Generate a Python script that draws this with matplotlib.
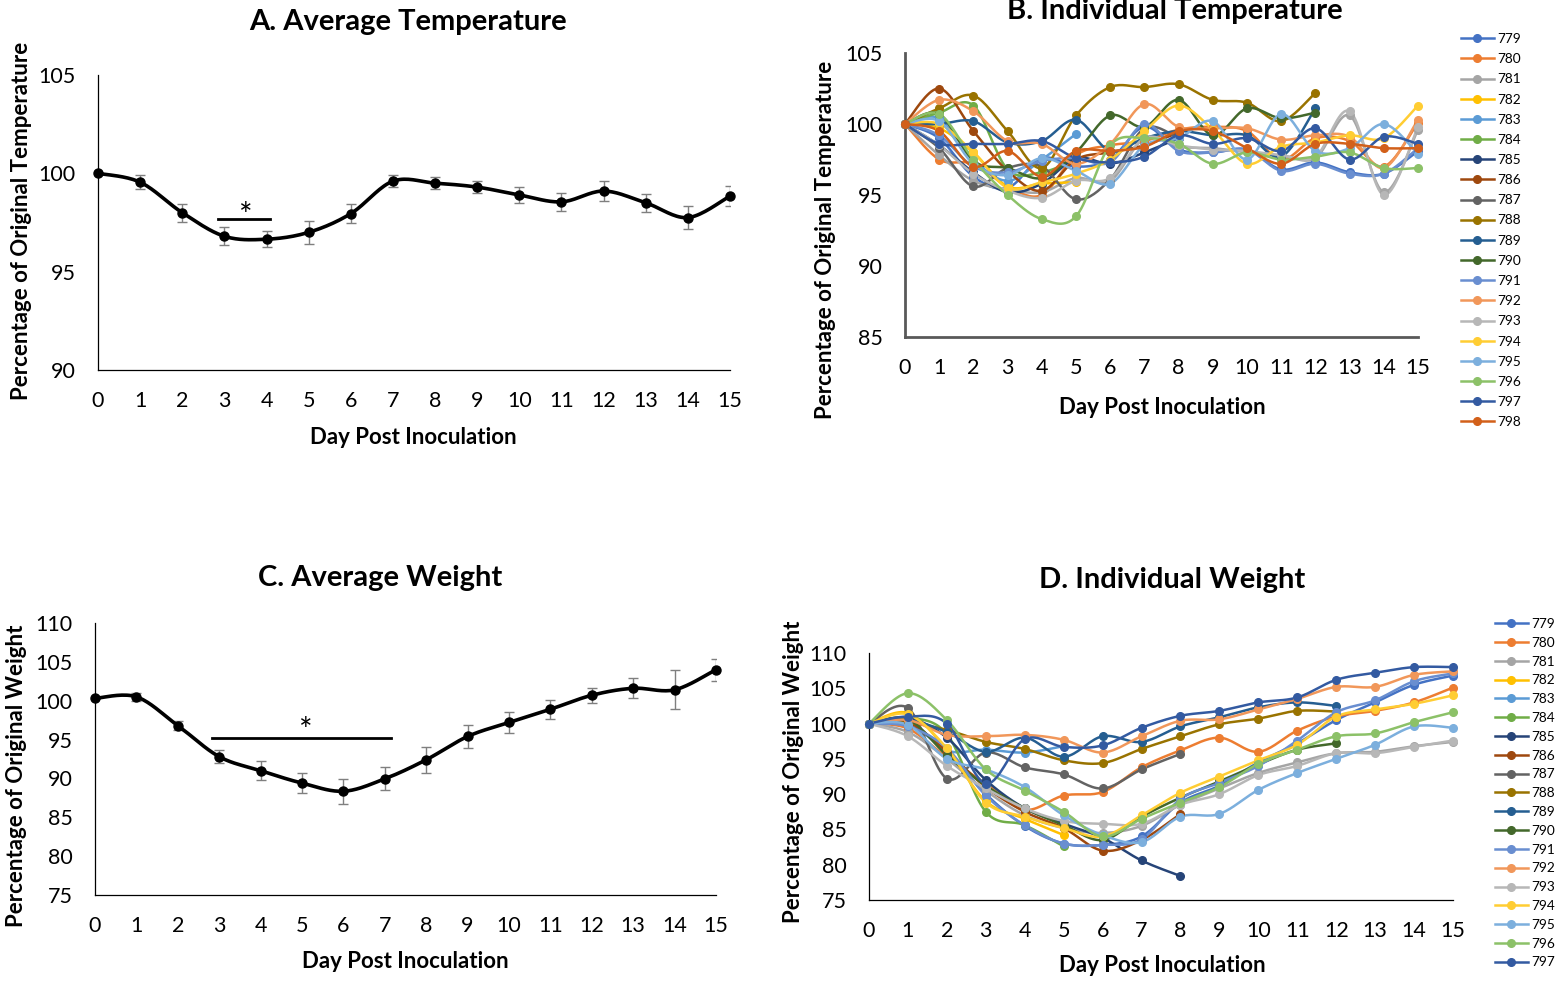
import numpy as np
import matplotlib.pyplot as plt
from matplotlib.lines import Line2D

plt.rcParams['font.family'] = ['Lato', 'DejaVu Sans']

# ---- data ----
days = list(range(16))

avg_temp = [100.0, 99.55, 98.0, 96.8, 96.65, 97.0, 97.95, 99.6, 99.5, 99.3,
            98.9, 98.55, 99.1, 98.5, 97.75, 98.85]
avg_temp_err = [0.0, 0.35, 0.45, 0.45, 0.4, 0.6, 0.5, 0.3, 0.3, 0.3,
                0.4, 0.45, 0.5, 0.45, 0.6, 0.5]
temp_sig_days = (2.85, 4.08)
temp_sig_level = 97.7

avg_weight = [100.3, 100.5, 96.8, 92.8, 91.0, 89.4, 88.35, 89.95, 92.4, 95.4,
              97.2, 98.9, 100.7, 101.6, 101.4, 104.0]
avg_weight_err = [0.0, 0.5, 0.6, 0.85, 1.2, 1.3, 1.6, 1.5, 1.7, 1.5,
                  1.3, 1.2, 0.95, 1.3, 2.5, 1.4]
weight_sig_days = (2.83, 7.15)
weight_sig_level = 95.2

mouse_ids = ['779', '780', '781', '782', '783', '784', '785', '786', '787', '788',
             '789', '790', '791', '792', '793', '794', '795', '796', '797', '798']

nan = np.nan
temp_by_mouse = [
    [100, 99.0, 96.3, 95.5, 97.6, 97.0, 97.5, 99.8, 98.2, 98.0, 98.2, 96.8, 97.3, 96.6, 96.5, 98.1],
    [100, 97.5, 97.2, 95.6, 95.0, 97.8, 98.5, 98.8, 99.6, 99.8, 99.5, 97.5, 99.0, 98.8, 97.0, 100.1],
    [100, 97.8, 96.0, 95.4, 95.2, 96.2, 96.0, 99.0, 98.4, 98.3, 98.0, 97.8, 97.6, 100.6, 95.2, 99.6],
    [100, 99.7, 98.0, 95.6, 95.8, 95.9, nan, nan, nan, nan, nan, nan, nan, nan, nan, nan],
    [100, 100.4, 97.5, 96.0, 97.5, 99.3, nan, nan, nan, nan, nan, nan, nan, nan, nan, nan],
    [100, 100.8, 101.3, 96.8, 96.6, 97.5, nan, nan, nan, nan, nan, nan, nan, nan, nan, nan],
    [100, 98.5, 96.6, 95.2, 95.8, 97.6, 97.2, 98.0, 99.0, nan, nan, nan, nan, nan, nan, nan],
    [100, 102.5, 99.5, 96.7, 95.3, 97.5, 98.0, 98.5, 99.4, nan, nan, nan, nan, nan, nan, nan],
    [100, 98.3, 95.6, 96.9, 97.0, 94.7, 96.1, 99.7, 99.0, nan, nan, nan, nan, nan, nan, nan],
    [100, 101.1, 102.0, 99.5, 96.9, 100.6, 102.6, 102.6, 102.8, 101.7, 101.5, 100.2, 102.2, nan, nan, nan],
    [100, 100.0, 100.2, 98.7, 98.8, 100.3, 98.1, 99.0, 99.5, 99.2, 99.2, 97.7, 101.1, nan, nan, nan],
    [100, 100.7, 97.4, 96.9, 96.2, 98.0, 100.6, 99.8, 101.7, 99.2, 101.1, 100.4, 100.8, nan, nan, nan],
    [100, 99.2, 97.0, 96.6, 97.4, 97.6, 97.3, 100.0, 98.1, 98.0, 98.2, 96.7, 97.2, 96.5, 96.5, 98.3],
    [100, 101.7, 100.9, 98.8, 98.6, 97.2, 98.6, 101.4, 99.8, 99.7, 99.7, 98.9, 99.2, 99.1, 96.9, 100.3],
    [100, 98.5, 96.5, 95.3, 94.8, 96.0, 96.2, 99.0, 98.5, 98.2, 98.1, 97.8, 97.7, 100.9, 95.0, 99.8],
    [100, 100.0, 98.0, 95.5, 95.9, 96.5, 97.5, 99.5, 101.3, 99.6, 97.2, 98.4, 98.7, 99.2, 99.0, 101.3],
    [100, 100.2, 97.2, 96.4, 97.6, 96.7, 95.8, 98.5, 99.0, 100.2, 97.5, 100.7, 98.1, 98.3, 100.0, 97.9],
    [100, 100.7, 97.5, 95.0, 93.3, 93.5, 98.5, 99.0, 98.6, 97.2, 98.0, 97.5, 97.7, 98.0, 96.9, 96.9],
    [100, 98.6, 98.6, 98.6, 98.8, 97.6, 97.3, 97.7, 99.2, 98.6, 99.0, 98.1, 99.7, 97.5, 99.1, 98.6],
    [100, 99.5, 97.0, 98.1, 96.3, 98.1, 98.1, 98.4, 99.5, 99.5, 98.3, 97.2, 98.6, 98.6, 98.3, 98.3],
]

# weight panel has mice 779-797
weight_by_mouse = [
    [100, 99.8, 96.0, 90.0, 85.5, 83.0, 82.8, 84.0, 88.8, 91.2, 94.5, 97.2, 100.5, 103.0, 105.5, 106.8],
    [100, 99.3, 95.2, 91.5, 87.8, 89.8, 90.3, 93.8, 96.2, 98.0, 96.0, 99.0, 101.0, 101.8, 103.0, 105.1],
    [100, 98.8, 95.0, 90.5, 87.0, 85.2, 84.5, 85.5, 88.5, 90.8, 93.0, 94.5, 95.8, 96.0, 96.8, 97.4],
    [100, 101.5, 96.3, 89.0, 86.5, 84.2, nan, nan, nan, nan, nan, nan, nan, nan, nan, nan],
    [100, 100.4, 96.2, 96.3, 95.9, 96.8, nan, nan, nan, nan, nan, nan, nan, nan, nan, nan],
    [100, 100.8, 98.5, 87.5, 85.6, 82.6, nan, nan, nan, nan, nan, nan, nan, nan, nan, nan],
    [100, 100.8, 98.0, 92.0, 88.0, 85.8, 83.8, 80.6, 78.4, nan, nan, nan, nan, nan, nan, nan],
    [100, 100.2, 96.0, 91.0, 87.5, 85.2, 82.0, 83.5, 87.2, nan, nan, nan, nan, nan, nan, nan],
    [100, 102.2, 92.2, 95.9, 93.8, 92.8, 90.8, 93.5, 95.7, nan, nan, nan, nan, nan, nan, nan],
    [100, 100.1, 99.1, 97.4, 96.4, 94.8, 94.4, 96.4, 98.2, 99.9, 100.7, 101.8, 101.7, nan, nan, nan],
    [100, 100.5, 98.8, 96.0, 98.0, 95.3, 98.2, 97.4, 99.6, 100.9, 102.3, 103.0, 102.5, nan, nan, nan],
    [100, 100.6, 95.5, 91.2, 88.0, 85.6, 83.5, 86.8, 89.5, 91.8, 94.2, 96.3, 97.2, nan, nan, nan],
    [100, 99.6, 96.5, 89.8, 85.6, 83.0, 82.8, 83.6, 89.3, 91.6, 94.0, 97.6, 101.6, 103.3, 106.0, 107.1],
    [100, 100.5, 98.4, 98.2, 98.4, 97.7, 95.9, 98.2, 100.4, 100.6, 102.0, 103.5, 105.2, 105.2, 106.9, 107.4],
    [100, 98.2, 94.0, 90.8, 88.0, 86.2, 85.8, 85.8, 88.5, 90.0, 92.7, 94.0, 95.8, 95.8, 96.7, 97.6],
    [100, 101.3, 96.5, 88.8, 86.8, 85.2, 84.0, 87.0, 90.2, 92.5, 94.8, 97.0, 101.0, 102.0, 102.8, 104.0],
    [100, 99.8, 95.0, 93.5, 91.0, 87.0, 84.2, 83.2, 86.8, 87.2, 90.6, 93.0, 95.0, 97.0, 99.6, 99.4],
    [100, 104.3, 100.5, 93.5, 90.5, 87.5, 84.0, 86.5, 88.8, 91.0, 94.3, 96.3, 98.2, 98.6, 100.2, 101.6],
    [100, 101.0, 100.0, 91.5, 97.8, 96.7, 96.9, 99.4, 101.1, 101.8, 103.0, 103.7, 106.2, 107.2, 108.0, 108.0],
]

mouse_colors = ['#4472C4', '#ED7D31', '#A5A5A5', '#FFC000', '#5B9BD5', '#70AD47',
                '#264478', '#9E480E', '#636363', '#997300', '#255E91', '#43682B',
                '#698ED0', '#F1975A', '#B7B7B7', '#FFCD33', '#7CAFDD', '#8CC168',
                '#335AA1', '#D2601A']


def smooth(x, y, steps=20):
    # bezier through the points, like a smoothed excel line
    x = np.asarray(x, float)
    y = np.asarray(y, float)
    ok = ~np.isnan(y)
    x, y = x[ok], y[ok]
    n = len(x)
    t = np.linspace(0, 1, steps)[1:]
    xs, ys = [x[0]], [y[0]]
    for i in range(n - 1):
        a = max(i - 1, 0)
        d = min(i + 2, n - 1)
        for arr, out in ((x, xs), (y, ys)):
            p1, p2 = arr[i], arr[i + 1]
            c1 = p1 + (p2 - arr[a]) / 6
            c2 = p2 - (arr[d] - p1) / 6
            seg = (1 - t) ** 3 * p1 + 3 * (1 - t) ** 2 * t * c1 + 3 * (1 - t) * t ** 2 * c2 + t ** 3 * p2
            out.extend(seg)
    return xs, ys


W, H = 1568, 981
fig = plt.figure(figsize=(W / 100, H / 100), dpi=100)

TITLE_FS = 21
LABEL_FS = 16
TICK_FS = 15.5


def box(l, t, r, b):
    return [l / W, 1 - b / H, (r - l) / W, (b - t) / H]


def style_axes(ax, ylim, yticks, spine_color, spine_w, ypad, xpad):
    ax.set_xlim(0, 15)
    ax.set_ylim(*ylim)
    ax.set_xticks(days)
    ax.set_yticks(yticks)
    for s in ('top', 'right'):
        ax.spines[s].set_visible(False)
    for s in ('left', 'bottom'):
        ax.spines[s].set_color(spine_color)
        ax.spines[s].set_linewidth(spine_w)
    ax.tick_params(axis='both', length=0, labelsize=TICK_FS, colors='#000000')
    ax.tick_params(axis='y', pad=ypad)
    ax.tick_params(axis='x', pad=xpad)


def plot_average(ax, mean, err, sig_days, sig_level, star_x, star_dy):
    ax.errorbar(days, mean, yerr=err, fmt='none', ecolor='#7F7F7F',
                elinewidth=1, capsize=3.5, capthick=1, zorder=2)
    sx, sy = smooth(days, mean)
    ax.plot(sx, sy, color='black', lw=2.6, zorder=3, clip_on=False)
    ax.plot(days, mean, 'o', color='black', ms=6.5, zorder=4, clip_on=False)
    ax.plot(sig_days, [sig_level, sig_level], color='black', lw=2)
    ax.annotate('*', (star_x, sig_level), xytext=(0, star_dy), textcoords='offset points',
                ha='center', va='center', fontsize=23)


def plot_individual(ax, data, ids):
    handles = []
    for vals, c, name in zip(data, mouse_colors, ids):
        sx, sy = smooth(days, vals)
        ax.plot(sx, sy, color=c, lw=1.8, zorder=2, clip_on=False)
        ax.plot(days, vals, 'o', color=c, ms=5.5, zorder=3, clip_on=False)
        handles.append(Line2D([], [], color=c, lw=1.8, marker='o', ms=5.5))
    return handles


def label(x, y, s, size, rot=0):
    fig.text(x / W, 1 - y / H, s, ha='center', va='center', rotation=rot,
             fontsize=size, fontweight='bold')


# A. average temperature
axA = fig.add_axes(box(98, 75, 730, 370))
style_axes(axA, (90, 105), [90, 95, 100, 105], 'black', 0.9, 16, 15)
plot_average(axA, avg_temp, avg_temp_err, temp_sig_days, temp_sig_level, 3.5, 1)
label(408, 22, 'A. Average Temperature', TITLE_FS)
label(413, 437, 'Day Post Inoculation', LABEL_FS)
label(22, 221, 'Percentage of Original Temperature', LABEL_FS, 90)

# B. individual temperature
axB = fig.add_axes(box(905, 53, 1418, 337))
style_axes(axB, (85, 105), [85, 90, 95, 100, 105], '#595959', 2, 16, 15)
hB = plot_individual(axB, temp_by_mouse, mouse_ids)
label(1175, 11, 'B. Individual Temperature', TITLE_FS)
label(1162, 407, 'Day Post Inoculation', LABEL_FS)
label(826, 240, 'Percentage of Original Temperature', LABEL_FS, 90)
fig.legend(hB, mouse_ids, loc='upper left', bbox_to_anchor=(1461 / W, 1 - 33 / H),
           frameon=False, fontsize=9.8, labelspacing=0.6, handlelength=2.4,
           handletextpad=0.3, borderpad=0, borderaxespad=0)

# C. average weight
axC = fig.add_axes(box(95, 623, 716, 895))
style_axes(axC, (75, 110), [75, 80, 85, 90, 95, 100, 105, 110], 'black', 0.9, 16, 15)
plot_average(axC, avg_weight, avg_weight_err, weight_sig_days, weight_sig_level, 5.1, 4)
label(380, 578, 'C. Average Weight', TITLE_FS)
label(405, 961, 'Day Post Inoculation', LABEL_FS)
label(17, 776, 'Percentage of Original Weight', LABEL_FS, 90)

# D. individual weight
axD = fig.add_axes(box(869, 653, 1453, 900))
style_axes(axD, (75, 110), [75, 80, 85, 90, 95, 100, 105, 110], 'black', 0.9, 16, 15)
hD = plot_individual(axD, weight_by_mouse, mouse_ids[:19])
label(1172, 580, 'D. Individual Weight', TITLE_FS)
label(1162, 966, 'Day Post Inoculation', LABEL_FS)
label(793, 772, 'Percentage of Original Weight', LABEL_FS, 90)
fig.legend(hD, mouse_ids[:19], loc='upper left', bbox_to_anchor=(1495 / W, 1 - 618 / H),
           frameon=False, fontsize=9.8, labelspacing=0.5, handlelength=2.4,
           handletextpad=0.3, borderpad=0, borderaxespad=0)

fig.savefig('out.png', dpi=100)
